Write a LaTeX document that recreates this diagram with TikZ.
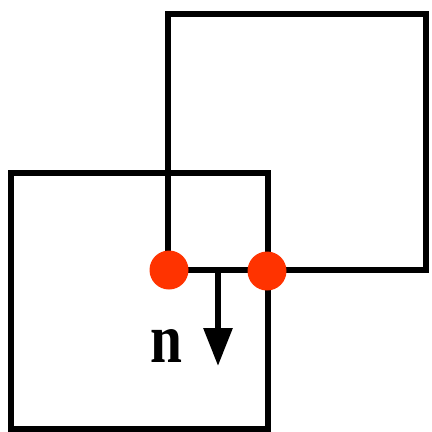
\documentclass[tikz,border=0pt]{standalone}
\usepackage{fontspec}
\newfontfamily\tnr{Liberation Serif}
\usetikzlibrary{arrows.meta}
\definecolor{dotred}{HTML}{FF3300}
\begin{document}
\begin{tikzpicture}[x=1pt,y=-1pt,
  edge/.style={line width=6pt, line join=miter},
  dot/.style={circle, fill=dotred, minimum size=39pt, inner sep=0pt},
  normal/.style={line width=6pt, -{Triangle[length=38pt,width=28pt]}}]
\useasboundingbox (0,0) rectangle (432,432);
\draw[edge] (11,173) rectangle (268,429);
\draw[edge] (168,14) rectangle (426,270);
\coordinate (base) at (218,270);
\coordinate (tip) at (218,366);
\draw[normal] (base) -- (tip);
\node[dot] (p1) at (169,270) {};
\node[dot] (p2) at (267,271) {};
\node[anchor=base, inner sep=0pt, xscale=0.82] (n) at (166,362) {\fontsize{70}{70}\selectfont\tnr\bfseries n};
\end{tikzpicture}
\end{document}
